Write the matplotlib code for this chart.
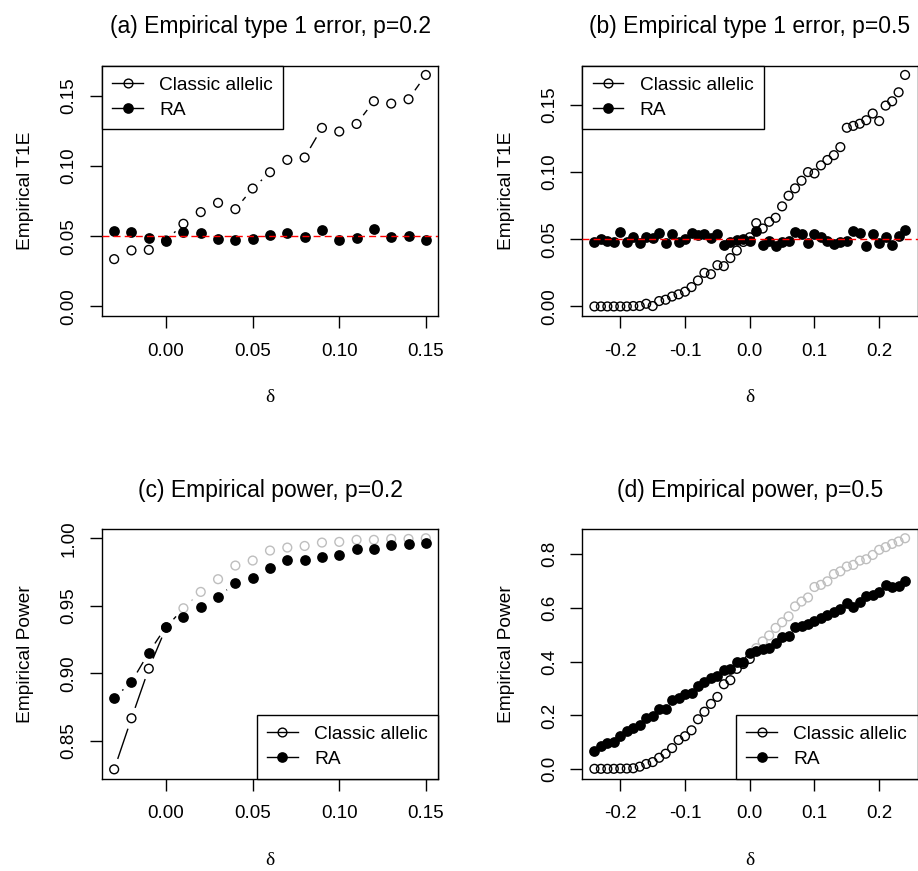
import numpy as np
import matplotlib
matplotlib.use('Agg')
import matplotlib.pyplot as plt
from matplotlib.collections import LineCollection
from matplotlib.lines import Line2D

plt.rcParams['font.family'] = ['Liberation Sans', 'DejaVu Sans']

# ---- data ----
delta_a = np.round(np.arange(-0.03, 0.1501, 0.01), 2)
t1e_classic_a = [0.0337, 0.0399, 0.0403, 0.0470, 0.0589, 0.0672, 0.0738, 0.0693, 0.0840, 0.0956,
                 0.1044, 0.1061, 0.1272, 0.1246, 0.1300, 0.1462, 0.1445, 0.1476, 0.1649]
t1e_ra_a = [0.0534, 0.0529, 0.0484, 0.0467, 0.0529, 0.0522, 0.0479, 0.0470, 0.0479, 0.0510,
            0.0522, 0.0498, 0.0546, 0.0470, 0.0484, 0.0553, 0.0494, 0.0505, 0.0475]

delta_b = np.round(np.arange(-0.24, 0.2401, 0.01), 2)
t1e_classic_b = [0.0, 0.0, 0.0, 0.0, 0.0, 0.0, 0.0003, 0.0003, 0.002, 0.0003,
                 0.004, 0.005, 0.0074, 0.009, 0.011, 0.0144, 0.0193, 0.025, 0.024, 0.0307,
                 0.030, 0.036, 0.0416, 0.048, 0.0515, 0.062, 0.058, 0.063, 0.066, 0.0745,
                 0.0824, 0.0879, 0.0936, 0.100, 0.099, 0.105, 0.109, 0.1126, 0.1186, 0.133,
                 0.1344, 0.136, 0.1386, 0.1436, 0.138, 0.1495, 0.1527, 0.1594, 0.1723]
t1e_ra_b = [0.048, 0.0502, 0.049, 0.0478, 0.0554, 0.048, 0.052, 0.047, 0.052, 0.0507,
            0.055, 0.0473, 0.054, 0.048, 0.0505, 0.055, 0.0532, 0.054, 0.051, 0.0537,
            0.0455, 0.048, 0.0495, 0.050, 0.0488, 0.056, 0.0458, 0.0488, 0.045, 0.048,
            0.0488, 0.0554, 0.054, 0.047, 0.054, 0.0515, 0.049, 0.0465, 0.0478, 0.049,
            0.0564, 0.0547, 0.045, 0.054, 0.047, 0.0515, 0.0455, 0.0527, 0.057]

pow_classic_c = [0.829, 0.8668, 0.9035, 0.934, 0.9482, 0.9603, 0.9697, 0.9798, 0.9835, 0.9909,
                 0.9931, 0.9943, 0.9968, 0.9973, 0.9988, 0.9988, 0.9995, 0.9995, 1.000]
pow_ra_c = [0.8818, 0.8937, 0.9154, 0.9346, 0.9418, 0.9489, 0.9563, 0.9672, 0.9709, 0.9783,
            0.9842, 0.9840, 0.9864, 0.9879, 0.9924, 0.9924, 0.9948, 0.9958, 0.9968]

pow_classic_d = [0.002, 0.002, 0.002, 0.002, 0.003, 0.003, 0.004, 0.010, 0.020, 0.027,
                 0.043, 0.058, 0.079, 0.109, 0.123, 0.145, 0.186, 0.214, 0.243, 0.269,
                 0.316, 0.331, 0.373, 0.391, 0.410, 0.450, 0.475, 0.497, 0.525, 0.546,
                 0.568, 0.605, 0.623, 0.638, 0.677, 0.685, 0.698, 0.725, 0.735, 0.753,
                 0.759, 0.775, 0.780, 0.796, 0.815, 0.825, 0.837, 0.846, 0.858]
pow_ra_d = [0.070, 0.085, 0.097, 0.101, 0.123, 0.142, 0.154, 0.163, 0.191, 0.198,
            0.223, 0.225, 0.257, 0.265, 0.280, 0.283, 0.309, 0.325, 0.340, 0.346,
            0.369, 0.374, 0.399, 0.398, 0.432, 0.440, 0.446, 0.450, 0.469, 0.490,
            0.496, 0.529, 0.533, 0.541, 0.549, 0.561, 0.573, 0.585, 0.597, 0.618,
            0.602, 0.623, 0.642, 0.648, 0.660, 0.684, 0.678, 0.682, 0.700]

nominal = 0.05
GREY = '#BEBEBE'
W, H = 918, 871
fig = plt.figure(figsize=(W / 100, H / 100), dpi=100)


def px_axes(l, t, r, b):
    return fig.add_axes([l / W, 1 - b / H, (r - l) / W, (b - t) / H])


def rlim(lo, hi):
    e = 0.04 * (hi - lo)
    return lo - e, hi + e


def type_b(ax, x, y, cols, gap=11):
    # R's type="b": segments shortened by a gap at each point
    p = ax.transData.transform(np.column_stack([x, y]))
    inv = ax.transData.inverted()
    segs, sc = [], []
    for i in range(len(p) - 1):
        d = p[i + 1] - p[i]
        L = np.hypot(*d)
        if L > 2 * gap:
            u = d / L
            segs.append(inv.transform([p[i] + u * gap, p[i + 1] - u * gap]))
            sc.append(cols[i])
    ax.add_collection(LineCollection(segs, colors=sc, linewidths=1.0, zorder=2))


def panel(ax, x, classic, ra, title, ylab, ticksx, tlabx, ticksy, tlaby, ylim, legloc, grey_pos, nom=False):
    x = np.asarray(x)
    ax.set_xlim(*rlim(x.min(), x.max()))
    ax.set_ylim(*ylim)
    cols = [GREY if (grey_pos and xv > 0.001) else 'black' for xv in x]
    type_b(ax, x, classic, cols)
    type_b(ax, x, ra, ['black'] * len(x))
    ax.scatter(x, classic, s=40, facecolors='none', edgecolors=cols, linewidths=1.0, zorder=3)
    ax.scatter(x, ra, s=60, color='black', linewidths=0, zorder=4)
    if nom:
        ax.axhline(nominal, color='red', lw=1.0, ls=(0, (5, 3)), zorder=5)
    ax.set_xticks(ticksx)
    ax.set_xticklabels(tlabx)
    ax.set_yticks(ticksy)
    ax.set_yticklabels(tlaby, va='center')
    ax.tick_params(axis='both', length=8.3, width=1.0, labelsize=13.5, pad=9, direction='out')
    ax.tick_params(axis='x', pad=11)
    ax.tick_params(axis='y', labelrotation=90)
    for s in ax.spines.values():
        s.set_linewidth(1.0)
    ax.text(0.5, 1 + 39 / 250, title, transform=ax.transAxes, ha='center', va='center', fontsize=16.5)
    ax.text(0.5, -82 / 250, 'δ', transform=ax.transAxes, ha='center', va='center', fontsize=14,
            family=['Liberation Serif', 'DejaVu Serif'])
    ax.text(-76 / 336, 0.5, ylab, transform=ax.transAxes, ha='center', va='center', rotation=90, fontsize=13.8)
    hs = [Line2D([], [], color='black', lw=1.0, marker='o', mfc='none', mec='black', ms=6.3, mew=1.0),
          Line2D([], [], color='black', lw=1.0, marker='o', mfc='black', mec='black', ms=7.7, mew=0)]
    leg = ax.legend(hs, ['Classic allelic', 'RA'], loc=legloc, fontsize=13.8, frameon=True, fancybox=False,
                    edgecolor='black', framealpha=1, borderaxespad=0, borderpad=0.55, labelspacing=0.4,
                    handlelength=1.6, handletextpad=0.85)
    leg.get_frame().set_linewidth(1.0)
    leg.set_zorder(10)


ticks_a = [0.00, 0.05, 0.10, 0.15]
lab_a = ['0.00', '0.05', '0.10', '0.15']
ticks_b = [-0.2, -0.1, 0.0, 0.1, 0.2]
lab_b = ['-0.2', '-0.1', '0.0', '0.1', '0.2']

ax_a = px_axes(101.7, 65.7, 438.3, 315.7)
panel(ax_a, delta_a, t1e_classic_a, t1e_ra_a, '(a) Empirical type 1 error, p=0.2', 'Empirical T1E',
      ticks_a, lab_a, ticks_a, lab_a, rlim(0, max(t1e_classic_a)), 'upper left', False, nom=True)

ax_b = px_axes(582, 65.7, 917.5, 315.7)
panel(ax_b, delta_b, t1e_classic_b, t1e_ra_b, '(b) Empirical type 1 error, p=0.5', 'Empirical T1E',
      ticks_b, lab_b, ticks_a, lab_a, rlim(0, max(t1e_classic_b)), 'upper left', False, nom=True)

ax_c = px_axes(101.7, 529, 438.3, 778.6)
panel(ax_c, delta_a, pow_classic_c, pow_ra_c, '(c) Empirical power, p=0.2', 'Empirical Power',
      ticks_a, lab_a, [0.85, 0.90, 0.95, 1.00], ['0.85', '0.90', '0.95', '1.00'],
      rlim(min(pow_classic_c + pow_ra_c), max(pow_classic_c + pow_ra_c)), 'lower right', True)

ax_d = px_axes(582, 529, 917.5, 778.6)
panel(ax_d, delta_b, pow_classic_d, pow_ra_d, '(d) Empirical power, p=0.5', 'Empirical Power',
      ticks_b, lab_b, [0.0, 0.2, 0.4, 0.6, 0.8], ['0.0', '0.2', '0.4', '0.6', '0.8'],
      rlim(0, max(pow_classic_d)), 'lower right', True)

fig.savefig('out.png', dpi=100)
